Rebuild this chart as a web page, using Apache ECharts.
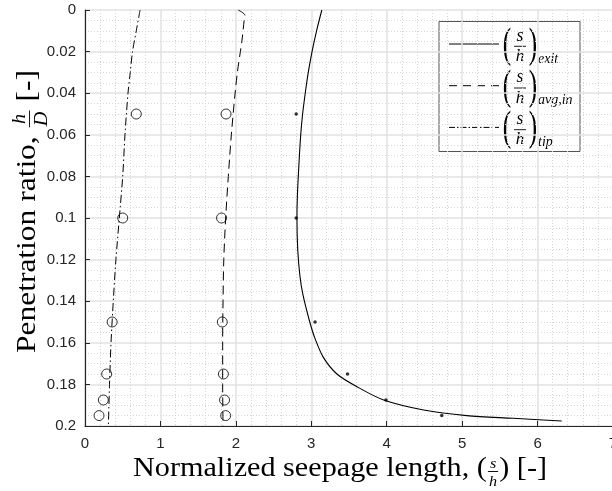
<!DOCTYPE html>
<html>
<head>
<meta charset="utf-8">
<script src="https://cdn.jsdelivr.net/npm/echarts/dist/echarts.min.js"></script>
<style>
  html, body { margin: 0; padding: 0; background: #fff; }
  #chart { width: 612px; height: 491px; }
</style>
</head>
<body>
<div id="chart"></div>
<script>
// h/D values of the test cases (markers)
var hD = [0.05, 0.1, 0.15, 0.175, 0.1875, 0.195]
var exitPts = [2.8, 2.8, 3.05, 3.48, 3.99, 4.73]
var avgPts = [1.87, 1.81, 1.82, 1.835, 1.85, 1.865]
var tipPts = [0.68, 0.50, 0.36, 0.287, 0.243, 0.186]

// fitted curves
var exitX = [3.14, 3.07, 3.01, 2.96, 2.92, 2.885, 2.86, 2.835, 2.815, 2.81, 2.82, 2.85, 2.89, 2.98, 3.05, 3.16, 3.34, 3.60, 3.96, 4.49, 5.06, 5.68, 6.32]
var exitY = [0, 0.01, 0.02, 0.03, 0.04, 0.05, 0.06, 0.075, 0.09, 0.1, 0.115, 0.128, 0.137, 0.15, 0.158, 0.167, 0.175, 0.181, 0.1875, 0.1923, 0.195, 0.1963, 0.1976]
var avgX = [2.03, 2.12, 2.11, 2.08, 2.06, 2.02, 1.99, 1.94, 1.90, 1.865, 1.84, 1.83, 1.825, 1.825, 1.83]
var avgY = [0, 0.0025, 0.005, 0.015, 0.02, 0.03, 0.04, 0.06, 0.08, 0.1, 0.12, 0.14, 0.16, 0.18, 0.2]
var tipX = [0.73, 0.68, 0.63, 0.60, 0.57, 0.53, 0.50, 0.455, 0.41, 0.375, 0.345, 0.325, 0.31]
var tipY = [0, 0.01, 0.02, 0.03, 0.04, 0.06, 0.08, 0.1, 0.12, 0.14, 0.16, 0.18, 0.2]

var serif = '"Liberation Serif", "DejaVu Serif", serif'
var sans = '"Liberation Sans", Arial, sans-serif'
var ink = '#262626'

function pairs (xs, ys) {
    return xs.map(function (x, i) { return [x, ys[i]] })
}

var ctx = document.createElement('canvas').getContext('2d')
function tw (str, font) {
    ctx.font = font
    return ctx.measureText(str).width
}

// lay out a row of plain text + stacked fractions, returns children and width
function mathRow (parts) {
    var kids = []
    var cx = 0
    parts.forEach(function (p) {
        if (p.frac) {
            var f = 'italic ' + p.size + 'px ' + serif
            var w = Math.max(tw(p.n, f), tw(p.d, f)) + 2
            var mid = cx + w / 2 + 1
            kids.push({ type: 'text', style: { text: p.n, x: mid, y: p.bar - p.size * 0.5, font: f, fill: '#000', align: 'center', verticalAlign: 'middle' } })
            kids.push({ type: 'text', style: { text: p.d, x: mid, y: p.bar + p.size * 0.72, font: f, fill: '#000', align: 'center', verticalAlign: 'middle' } })
            kids.push({ type: 'line', shape: { x1: mid - w / 2, y1: p.bar, x2: mid + w / 2, y2: p.bar }, style: { stroke: '#000', lineWidth: 0.9 } })
            cx += w + 2
        } else {
            var fo = p.size + 'px ' + serif
            kids.push({ type: 'text', style: { text: p.s, x: cx, y: 0, font: fo, fill: '#000', align: 'left', verticalAlign: 'middle' } })
            cx += tw(p.s, fo)
        }
    })
    return { kids: kids, width: cx }
}

var xName = mathRow([
    { s: 'Normalized seepage length, ', size: 28 },
    { s: '(', size: 28 },
    { frac: true, n: 's', d: 'h', size: 15, bar: 3 },
    { s: ')', size: 28 },
    { s: ' [-]', size: 28 }
])
var yName = mathRow([
    { s: 'Penetration ratio, ', size: 28 },
    { frac: true, n: 'h', d: 'D', size: 18, bar: 2 },
    { s: ' [-]', size: 28 }
])

// legend entries drawn by hand (math labels)
var legendRows = [
    { sub: 'exit', dash: 'solid' },
    { sub: 'avg,in', dash: [8, 6] },
    { sub: 'tip', dash: [6, 2, 1.5, 2] }
]
var legendKids = [
    { type: 'rect', shape: { x: 439, y: 21.5, width: 141, height: 130 }, style: { fill: '#fff', stroke: '#555', lineWidth: 1 } }
]
legendRows.forEach(function (r, i) {
    var y = 44 + i * 41.7
    legendKids.push({ type: 'line', shape: { x1: 449, y1: y, x2: 499, y2: y }, style: { stroke: '#000', lineWidth: 1, lineDash: r.dash === 'solid' ? null : r.dash } })
    legendKids.push({ type: 'text', scaleX: 0.6, x: 507, y: y + 2, style: { text: '(', x: 0, y: 0, font: '42px ' + serif, fill: '#000', align: 'center', verticalAlign: 'middle' } })
    legendKids.push({ type: 'text', scaleX: 0.6, x: 533, y: y + 2, style: { text: ')', x: 0, y: 0, font: '42px ' + serif, fill: '#000', align: 'center', verticalAlign: 'middle' } })
    legendKids.push({ type: 'text', style: { text: 's', x: 520, y: y - 8, font: 'italic 18px ' + serif, fill: '#000', align: 'center', verticalAlign: 'middle' } })
    legendKids.push({ type: 'line', shape: { x1: 514, y1: y + 2.3, x2: 526, y2: y + 2.3 }, style: { stroke: '#000', lineWidth: 0.9 } })
    legendKids.push({ type: 'text', style: { text: 'h', x: 520, y: y + 12.5, font: 'italic 17px ' + serif, fill: '#000', align: 'center', verticalAlign: 'middle' } })
    legendKids.push({ type: 'text', style: { text: r.sub, x: 538, y: y + 15, font: 'italic 14px ' + serif, fill: '#000', align: 'left', verticalAlign: 'middle' } })
})

var splitStyle = { color: '#e2e2e2', width: 1.5 }
var minorStyle = { color: '#d6d6d6', width: 1, type: [1, 2] }

var option = {
    animation: false,
    grid: { left: 85, top: 10, width: 528, height: 416, outerBoundsMode: 'none', containLabel: false },
    xAxis: {
        type: 'value',
        min: 0,
        max: 7,
        interval: 1,
        axisLine: { show: true, onZero: false, lineStyle: { color: ink, width: 1.2 } },
        axisTick: { show: true, inside: true, length: 5, lineStyle: { color: ink } },
        axisLabel: { margin: 10, fontFamily: sans, fontSize: 15, color: ink },
        splitLine: { show: true, lineStyle: splitStyle },
        minorTick: { show: false, splitNumber: 5 },
        minorSplitLine: { show: true, lineStyle: minorStyle }
    },
    yAxis: {
        type: 'value',
        inverse: true,
        min: 0,
        max: 0.2,
        interval: 0.02,
        axisLine: { show: true, onZero: false, lineStyle: { color: ink, width: 1.2 } },
        axisTick: { show: true, inside: true, length: 5, lineStyle: { color: ink } },
        axisLabel: {
            margin: 9,
            fontFamily: sans,
            fontSize: 15,
            color: ink,
            formatter: function (v) { return String(+v.toFixed(3)) }
        },
        splitLine: { show: true, lineStyle: splitStyle },
        minorTick: { show: false, splitNumber: 4 },
        minorSplitLine: { show: true, lineStyle: minorStyle }
    },
    graphic: [
        { type: 'group', x: 133, y: 468.5, scaleX: 414 / xName.width, children: xName.kids },
        { type: 'group', x: 27.5, y: 353, rotation: Math.PI / 2, scaleX: 283 / yName.width, children: yName.kids },
        { type: 'group', children: legendKids }
    ],
    series: [
        {
            name: 'exit',
            type: 'line',
            data: pairs(exitX, exitY),
            symbol: 'none',
            smooth: 0.3,
            lineStyle: { color: '#000', width: 1.1 }
        },
        {
            name: 'avg,in',
            type: 'line',
            data: pairs(avgX, avgY),
            symbol: 'none',
            smooth: 0.3,
            lineStyle: { color: '#000', width: 1, type: [9, 5] }
        },
        {
            name: 'tip',
            type: 'line',
            data: pairs(tipX, tipY),
            symbol: 'none',
            smooth: 0.3,
            lineStyle: { color: '#000', width: 1, type: [8, 3, 1.5, 3] }
        },
        {
            name: 'exit pts',
            type: 'scatter',
            data: pairs(exitPts, hD),
            symbolSize: 3.5,
            itemStyle: { color: '#000' }
        },
        {
            name: 'avg pts',
            type: 'scatter',
            data: pairs(avgPts, hD),
            symbolSize: 10,
            itemStyle: { color: 'rgba(0,0,0,0)', borderColor: '#000', borderWidth: 1 }
        },
        {
            name: 'tip pts',
            type: 'scatter',
            data: pairs(tipPts, hD),
            symbolSize: 10,
            itemStyle: { color: 'rgba(0,0,0,0)', borderColor: '#000', borderWidth: 1 }
        }
    ]
}

var myChart = echarts.init(document.getElementById('chart'), null, { renderer: 'canvas' })
myChart.setOption(option)
</script>
</body>
</html>
